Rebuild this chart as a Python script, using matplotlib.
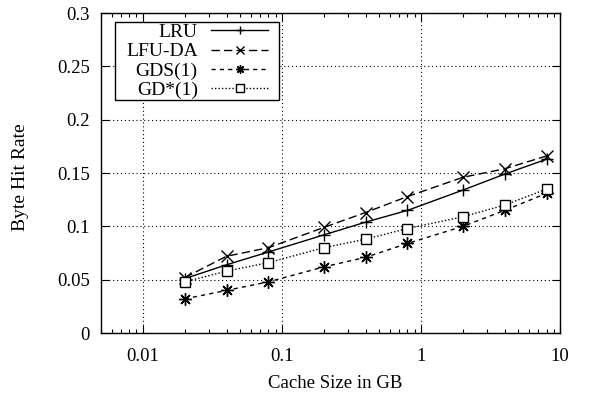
import matplotlib
matplotlib.use("Agg")
import matplotlib.pyplot as plt
from matplotlib.path import Path
from matplotlib.ticker import FixedLocator, FuncFormatter, LogLocator, NullFormatter

plt.rcParams['font.family'] = ['Liberation Serif', 'DejaVu Serif']

cache_gb = [0.02, 0.04, 0.08, 0.2, 0.4, 0.8, 2, 4, 8]
lru    = [0.051, 0.064, 0.076, 0.092, 0.104, 0.115, 0.134, 0.149, 0.163]
lfu_da = [0.052, 0.072, 0.080, 0.099, 0.113, 0.128, 0.146, 0.154, 0.166]
gds1   = [0.032, 0.040, 0.048, 0.062, 0.071, 0.084, 0.100, 0.115, 0.131]
gdstar = [0.048, 0.058, 0.066, 0.080, 0.088, 0.098, 0.109, 0.120, 0.135]
labels = ["LRU", "LFU-DA", "GDS(1)", "GD*(1)"]
x_ticks = [0.01, 0.1, 1, 10]
y_ticks = [0, 0.05, 0.1, 0.15, 0.2, 0.25, 0.3]

fig = plt.figure(figsize=(5.92, 3.96), dpi=100)
ax = fig.add_axes([0.1706, 0.159, 0.7754, 0.808])

ax.plot(cache_gb, lru, color='black', lw=1.0, ls='-', marker='+', ms=9, mew=1.0, label=labels[0])
ax.plot(cache_gb, lfu_da, color='black', lw=1.0, ls=(0, (6, 3)), marker='x', ms=8, mew=1.0, label=labels[1])
ax.plot(cache_gb, gds1, color='black', lw=1.0, ls=(0, (3, 3)), marker=(8, 2, 0), ms=9, mew=1.0, label=labels[2])
ax.plot(cache_gb, gdstar, color='black', lw=1.0, ls=(0, (1, 1.5)), marker='s', ms=6.5, mew=1.0,
        mfc='white', label=labels[3])

ax.set_xscale('log')
ax.set_xlim(0.005, 10)
ax.set_ylim(0, 0.3)
ax.xaxis.set_major_locator(FixedLocator(x_ticks))
ax.xaxis.set_major_formatter(FuncFormatter(lambda v, p: '%g' % v))
ax.xaxis.set_minor_locator(LogLocator(base=10, subs=range(2, 10), numticks=20))
ax.xaxis.set_minor_formatter(NullFormatter())
ax.yaxis.set_major_locator(FixedLocator(y_ticks))
ax.yaxis.set_major_formatter(FuncFormatter(lambda v, p: '%g' % v))

ax.tick_params(which='both', direction='in', top=True, right=True, labelsize=13.5)
ax.tick_params(axis='y', pad=8)
ax.tick_params(axis='x', pad=10.5)
ax.tick_params(which='major', length=6, width=0.8)
ax.tick_params(which='minor', length=3, width=0.8)
ax.grid(True, which='major', color='black', ls=(0, (1, 2.5)), lw=0.8)
for s in ax.spines.values():
    s.set_linewidth(1.0)

ax.set_xlabel("Cache Size in GB", fontsize=13.5)
ax.set_ylabel("Byte Hit Rate", fontsize=14)
ax.xaxis.set_label_coords(0.511, -0.1315)
ax.yaxis.set_label_coords(-0.157, 0.4875)

leg = ax.legend(loc='upper left', bbox_to_anchor=(0.0545, 0.967), markerfirst=False, fontsize=14,
                frameon=True, fancybox=False, edgecolor='black', framealpha=1,
                handlelength=2.93, handletextpad=0.7, labelspacing=0.08, borderpad=0.0,
                borderaxespad=0.0)
leg.get_frame().set_linewidth(1.0)


def wide_box(x0, y0, width, height, mutation_size):
    px, py = 11.0, 1.5
    xa, xb = x0 - px, x0 + width + px
    ya, yb = y0 - py, y0 + height + py
    return Path([(xa, ya), (xb, ya), (xb, yb), (xa, yb), (xa, ya)], closed=True)


leg.get_frame().set_boxstyle(wide_box)
for col in leg._legend_handle_box.get_children():
    col.align = 'right'
for h in leg.legend_handles:
    h.set_markersize(6)

fig.savefig("out.png", dpi=100)
